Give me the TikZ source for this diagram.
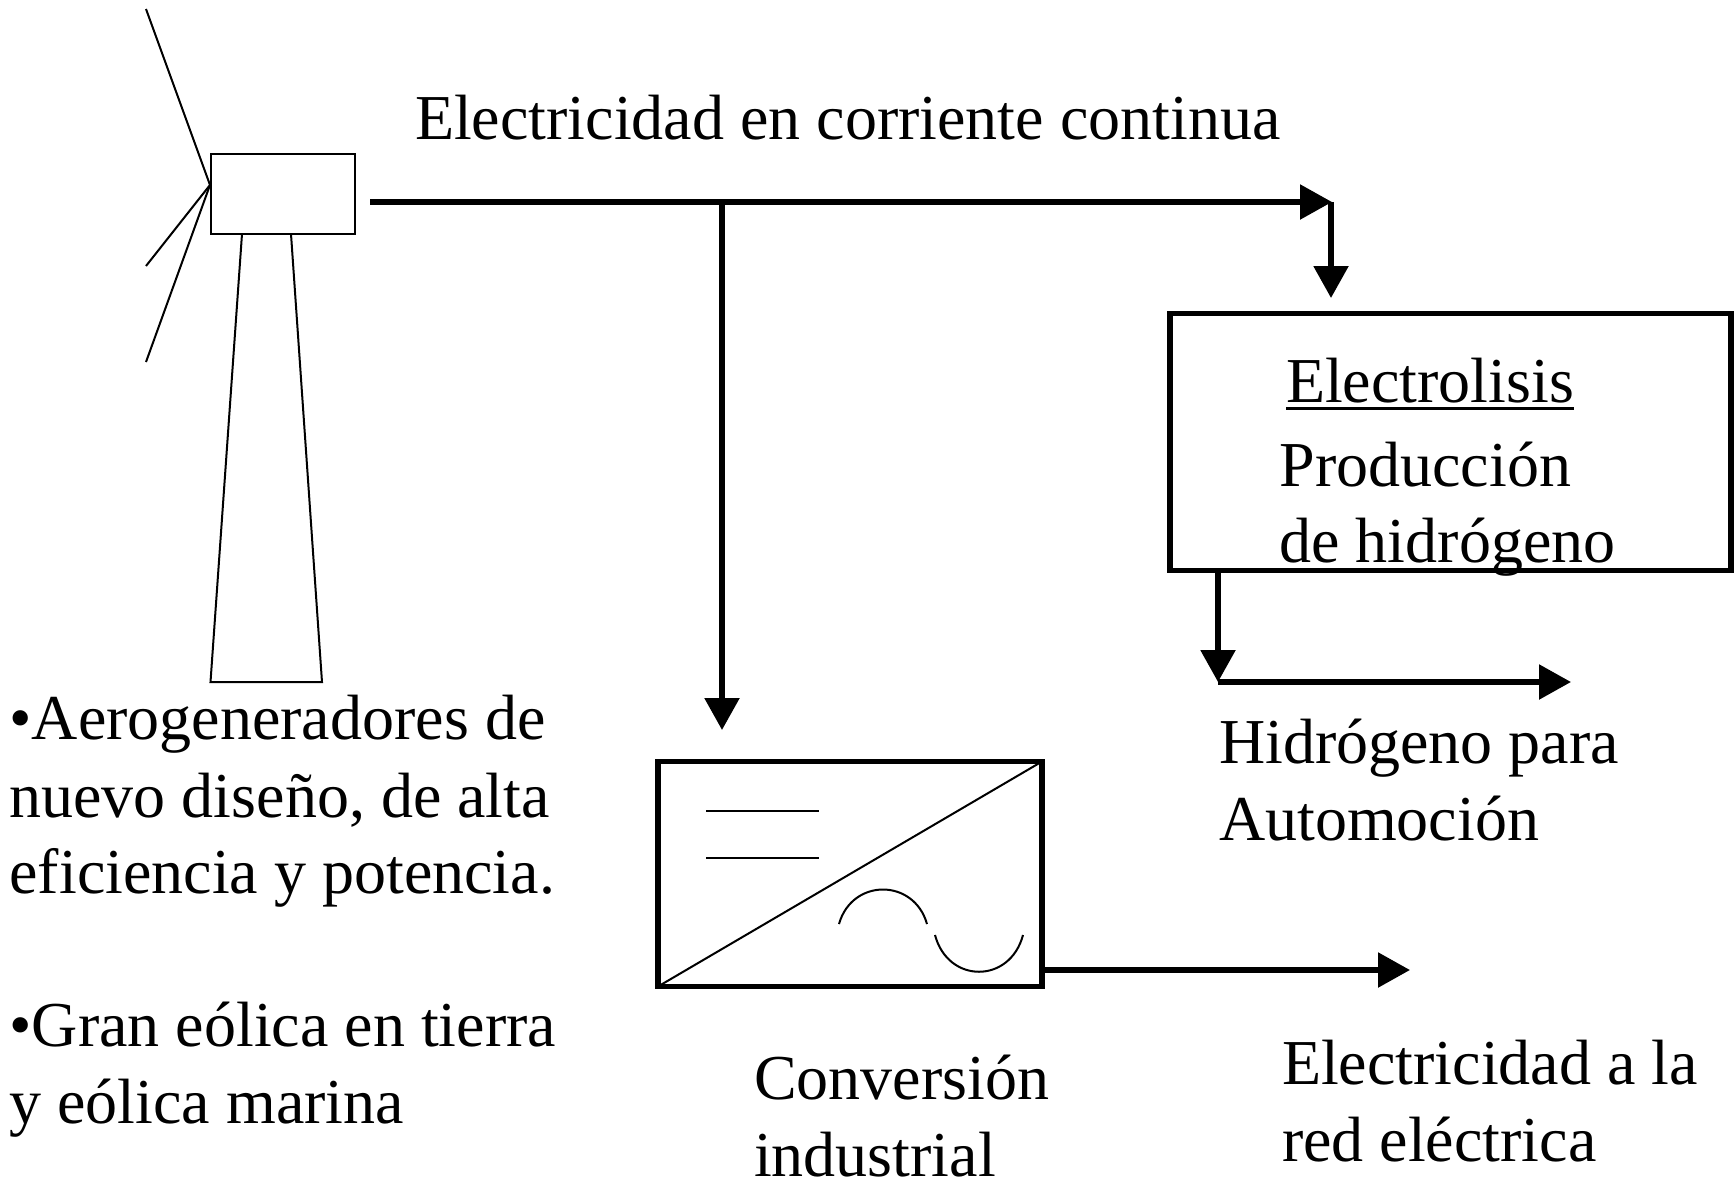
\documentclass[tikz,border=0pt]{standalone}
\usepackage{fontspec}
\setmainfont{Liberation Serif}
\usetikzlibrary{arrows.meta}
\newsavebox{\ulinebox}
\tikzset{
  x=1pt,y=-1pt,
  lbl/.style={anchor=base west,inner sep=0pt,outer sep=0pt,font=\fontsize{64}{77}\selectfont},
  thinline/.style={draw=black,line width=2pt},
  flow/.style={draw=black,line width=5.5pt,-{Triangle[length=32pt,width=34pt]}},
  heavybox/.style={draw=black,line width=5.5pt,inner sep=0pt,outer sep=0pt,anchor=north west},
  nacelle/.style={draw=black,line width=2pt,inner sep=0pt,outer sep=0pt,anchor=north west,minimum width=144pt,minimum height=80pt}
}
\begin{document}
\begin{tikzpicture}
\useasboundingbox (0,0) rectangle (1736,1181);
% turbine
\node[nacelle] (nac) at (210.5,154) {};
\coordinate (hub) at (210,185);
\coordinate (bladeA) at (146,9);
\coordinate (bladeB) at (146,266);
\coordinate (bladeC) at (146,362);
\draw[thinline,line join=round] (bladeA) -- (hub) -- (bladeB);
\draw[thinline] (hub) -- (bladeC);
\coordinate (towerTL) at (242,234);
\coordinate (towerTR) at (291,234);
\coordinate (towerBL) at (210.5,682);
\coordinate (towerBR) at (322,682);
\draw[thinline,line join=miter] (towerTL) -- (towerBL) -- (towerBR) -- (towerTR);
% electrolysis box
\node[heavybox,minimum width=561pt,minimum height=257pt] (elec) at (1170,313.5) {};
% converter
\node[heavybox,minimum width=384pt,minimum height=225pt] (conv) at (658,761.5) {};
\draw[thinline] (conv.south west) -- (conv.north east);
\coordinate (dcAa) at (706,810.5); \coordinate (dcAb) at (819,810.5);
\coordinate (dcBa) at (706,858); \coordinate (dcBb) at (819,858);
\draw[thinline] (dcAa) -- (dcAb);
\draw[thinline] (dcBa) -- (dcBb);
\coordinate (acA) at (839,924); \coordinate (acB) at (927,924);
\coordinate (acC) at (935,935); \coordinate (acD) at (1023,935);
\draw[thinline] (acA) .. controls (852,878) and (914,878) .. (acB);
\draw[thinline] (acC) .. controls (948,984) and (1010,984) .. (acD);
% connectors
\coordinate (busStart) at (370,202);
\coordinate (busEnd) at (1332,202);
\coordinate (busTap) at (722,202);
\coordinate (convIn) at (722,730);
\coordinate (elecInTop) at (1331,202);
\coordinate (elecIn) at (1331,298);
\coordinate (elecOutTop) at (1218,570);
\coordinate (elecOut) at (1218,682);
\coordinate (h2Out) at (1571,682);
\coordinate (convOutA) at (1044,970);
\coordinate (convOutB) at (1410,970);
\draw[flow] (busStart) -- (busEnd);
\draw[flow] (busTap) -- (convIn);
\draw[flow] (elecInTop) -- (elecIn);
\draw[flow] (elecOutTop) -- (elecOut);
\draw[flow] (elecOut) -- (h2Out);
\draw[flow] (convOutA) -- (convOutB);
% labels
\node[lbl] (tMain) at (415,139) {Electricidad en corriente continua};
\node[lbl] (tUL) at (1286,402) {\sbox{\ulinebox}{Electrolisis}\rlap{\rule[-8pt]{\wd\ulinebox}{3pt}}\usebox{\ulinebox}};
\node[lbl] (tPr) at (1279.5,486) {Producción};
\node[lbl] (tHi) at (1279.5,562) {de hidrógeno};
\node[lbl] (tHa) at (1219,763) {Hidrógeno para};
\node[lbl] (tHb) at (1219,840) {Automoción};
\node[lbl] (tLa) at (9.5,739) {•Aerogeneradores de};
\node[lbl] (tLb) at (9.5,817) {nuevo diseño, de alta};
\node[lbl] (tLc) at (9.5,893) {eficiencia y potencia.};
\node[lbl] (tLd) at (9.5,1046) {•Gran eólica en tierra};
\node[lbl] (tLe) at (9.5,1123) {y eólica marina};
\node[lbl] (tCa) at (754,1099) {Conversión};
\node[lbl] (tCb) at (754,1176) {industrial};
\node[lbl] (tRa) at (1282,1084) {Electricidad a la};
\node[lbl] (tRb) at (1282,1161) {red eléctrica};
\end{tikzpicture}
\end{document}
